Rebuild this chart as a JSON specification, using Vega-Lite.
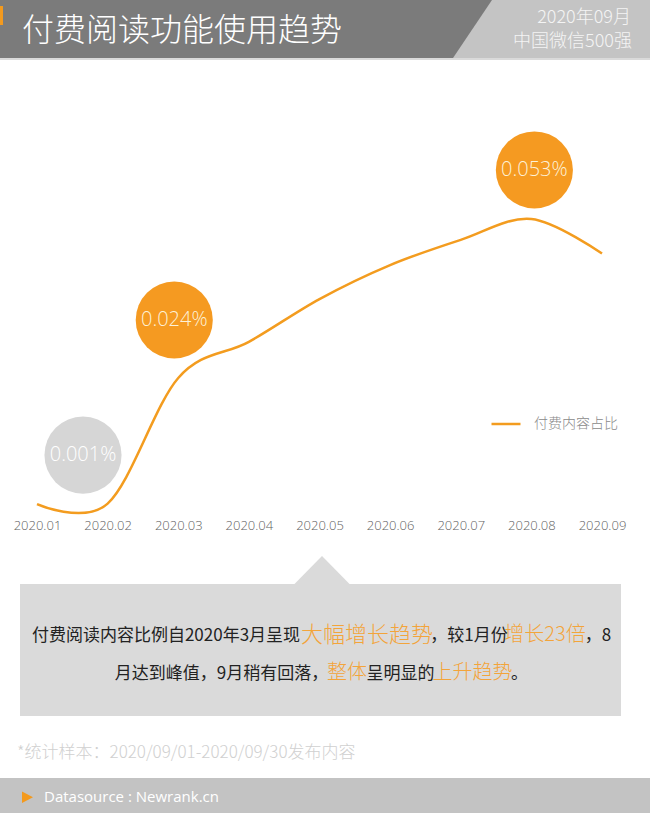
{
  "$schema": "https://vega.github.io/schema/vega-lite/v6.json",
  "width": 650,
  "height": 813,
  "autosize": {"type": "none"},
  "padding": 0,
  "background": "#ffffff",
  "config": {"view": {"stroke": null}, "font": "Noto Sans CJK SC"},
  "datasets": {
    "trend": [
      {"month": "2020.01", "share": 0.001, "series": "付费内容占比", "label": "0.001%"},
      {"month": "2020.02", "share": 0.0011, "series": "付费内容占比"},
      {"month": "2020.03", "share": 0.024, "series": "付费内容占比", "label": "0.024%"},
      {"month": "2020.04", "share": 0.0306, "series": "付费内容占比"},
      {"month": "2020.05", "share": 0.0384, "series": "付费内容占比"},
      {"month": "2020.06", "share": 0.0446, "series": "付费内容占比"},
      {"month": "2020.07", "share": 0.0492, "series": "付费内容占比"},
      {"month": "2020.08", "share": 0.053, "series": "付费内容占比", "label": "0.053%"},
      {"month": "2020.09", "share": 0.0467, "series": "付费内容占比"}
    ]
  },
  "layer": [
    {
      "data": {"values": [{}]},
      "mark": {"type": "rect", "color": "#c4c4c4"},
      "encoding": {"x": {"value": 0}, "x2": {"value": 650}, "y": {"value": 0}, "y2": {"value": 58}}
    },
    {
      "data": {"values": [{}]},
      "mark": {"type": "point", "shape": "M0,0L492,0L453,58L0,58Z", "size": 4, "filled": true, "opacity": 1, "color": "#7b7b7b", "strokeWidth": 0},
      "encoding": {"x": {"value": 0}, "y": {"value": 0}}
    },
    {
      "data": {"values": [{}]},
      "mark": {"type": "rect", "color": "#dadada"},
      "encoding": {"x": {"value": 0}, "x2": {"value": 650}, "y": {"value": 58}, "y2": {"value": 60}}
    },
    {
      "data": {"values": [{}]},
      "mark": {"type": "rect", "color": "#f39a1e"},
      "encoding": {"x": {"value": 0}, "x2": {"value": 3}, "y": {"value": 6}, "y2": {"value": 25}}
    },
    {
      "data": {"values": [{}]},
      "mark": {"type": "text", "align": "left", "baseline": "middle", "font": "'Noto Sans CJK SC Light', 'Noto Sans CJK SC'", "fontSize": 32, "fontWeight": 300, "color": "#ffffff"},
      "encoding": {"x": {"value": 22}, "y": {"value": 31}, "text": {"value": "付费阅读功能使用趋势"}}
    },
    {
      "data": {"values": [{}]},
      "mark": {"type": "text", "align": "right", "baseline": "middle", "font": "'Noto Sans CJK SC Light', 'Noto Sans CJK SC'", "fontSize": 18, "fontWeight": 300, "color": "#f4f4f4"},
      "encoding": {"x": {"value": 631}, "y": {"value": 18}, "text": {"value": "2020年09月"}}
    },
    {
      "data": {"values": [{}]},
      "mark": {"type": "text", "align": "right", "baseline": "middle", "font": "'Noto Sans CJK SC Light', 'Noto Sans CJK SC'", "fontSize": 18, "fontWeight": 300, "color": "#f4f4f4"},
      "encoding": {"x": {"value": 632}, "y": {"value": 42}, "text": {"value": "中国微信500强"}}
    },
    {
      "data": {"name": "trend"},
      "mark": {"type": "line", "interpolate": "cardinal", "strokeWidth": 2.5},
      "encoding": {
        "x": {
          "field": "month", "type": "ordinal",
          "scale": {"type": "point", "range": [37, 602], "padding": 0},
          "axis": {"orient": "bottom", "offset": -297, "domain": false, "ticks": false, "grid": false, "title": null, "labelAngle": 0, "labelPadding": 3, "labelFont": "Open Sans", "labelFontSize": 13, "labelFontWeight": 300, "labelColor": "#5f5f5f"}
        },
        "y": {
          "field": "share", "type": "quantitative",
          "scale": {"domain": [0, 0.06], "range": [509.6, 180.6], "nice": false, "zero": false},
          "axis": null
        },
        "color": {
          "field": "series", "type": "nominal",
          "scale": {"range": ["#f39c1f"]},
          "legend": {"orient": "none", "legendX": 490, "legendY": 408, "title": null, "symbolType": "stroke", "symbolSize": 841, "symbolStrokeWidth": 2.5, "labelFont": "'Noto Sans CJK SC Light', 'Noto Sans CJK SC'", "labelFontSize": 14, "labelColor": "#8a8a8a", "labelOffset": 12, "padding": 0}
        }
      }
    },
    {
      "data": {"name": "trend"},
      "transform": [{"filter": "datum.month === '2020.01'"}],
      "encoding": {
        "x": {"field": "month", "type": "ordinal"},
        "y": {"field": "share", "type": "quantitative"}
      },
      "layer": [
        {"mark": {"type": "circle", "size": 5945, "opacity": 1, "color": "#d6d6d6", "xOffset": 46, "yOffset": -49}},
        {"mark": {"type": "text", "font": "Open Sans", "fontSize": 20, "fontWeight": 300, "color": "#ffffff", "baseline": "middle", "xOffset": 46, "yOffset": -49}, "encoding": {"text": {"field": "label"}}}
      ]
    },
    {
      "data": {"name": "trend"},
      "transform": [{"filter": "datum.month === '2020.03'"}],
      "encoding": {
        "x": {"field": "month", "type": "ordinal"},
        "y": {"field": "share", "type": "quantitative"}
      },
      "layer": [
        {"mark": {"type": "circle", "size": 5945, "opacity": 1, "color": "#f59a21", "xOffset": -4, "yOffset": -58}},
        {"mark": {"type": "text", "font": "Open Sans", "fontSize": 20, "fontWeight": 300, "color": "#fdf1d8", "baseline": "middle", "xOffset": -4, "yOffset": -58}, "encoding": {"text": {"field": "label"}}}
      ]
    },
    {
      "data": {"name": "trend"},
      "transform": [{"filter": "datum.month === '2020.08'"}],
      "encoding": {
        "x": {"field": "month", "type": "ordinal"},
        "y": {"field": "share", "type": "quantitative"}
      },
      "layer": [
        {"mark": {"type": "circle", "size": 5945, "opacity": 1, "color": "#f59a21", "xOffset": 3, "yOffset": -49}},
        {"mark": {"type": "text", "font": "Open Sans", "fontSize": 20, "fontWeight": 300, "color": "#fdf1d8", "baseline": "middle", "xOffset": 3, "yOffset": -49}, "encoding": {"text": {"field": "label"}}}
      ]
    },
    {
      "data": {"values": [{}]},
      "mark": {"type": "rect", "color": "#dadada"},
      "encoding": {"x": {"value": 20}, "x2": {"value": 621}, "y": {"value": 584}, "y2": {"value": 716}}
    },
    {
      "data": {"values": [{}]},
      "mark": {"type": "point", "shape": "M294,584.5L322,556L350,584.5Z", "size": 4, "filled": true, "opacity": 1, "color": "#dadada", "strokeWidth": 0},
      "encoding": {"x": {"value": 0}, "y": {"value": 0}}
    },
    {
      "data": {"values": [{}]},
      "mark": {"type": "text", "align": "center", "baseline": "middle", "fontSize": 17, "color": "#222222"},
      "encoding": {"x": {"value": 166}, "y": {"value": 636}, "text": {"value": "付费阅读内容比例自2020年3月呈现"}}
    },
    {
      "data": {"values": [{}]},
      "mark": {"type": "text", "align": "center", "baseline": "middle", "font": "'Noto Sans CJK SC Light', 'Noto Sans CJK SC'", "fontSize": 22, "fontWeight": 300, "color": "#f3a43a"},
      "encoding": {"x": {"value": 367}, "y": {"value": 635}, "text": {"value": "大幅增长趋势"}}
    },
    {
      "data": {"values": [{}]},
      "mark": {"type": "text", "align": "center", "baseline": "middle", "fontSize": 17, "color": "#222222"},
      "encoding": {"x": {"value": 469}, "y": {"value": 636}, "text": {"value": "，较1月份"}}
    },
    {
      "data": {"values": [{}]},
      "mark": {"type": "text", "align": "center", "baseline": "middle", "font": "'Noto Sans CJK SC Light', 'Noto Sans CJK SC'", "fontSize": 20, "fontWeight": 300, "color": "#f3a43a"},
      "encoding": {"x": {"value": 545}, "y": {"value": 635}, "text": {"value": "增长23倍"}}
    },
    {
      "data": {"values": [{}]},
      "mark": {"type": "text", "align": "center", "baseline": "middle", "fontSize": 17, "color": "#222222"},
      "encoding": {"x": {"value": 598}, "y": {"value": 636}, "text": {"value": "，8"}}
    },
    {
      "data": {"values": [{}]},
      "mark": {"type": "text", "align": "center", "baseline": "middle", "fontSize": 17, "color": "#222222"},
      "encoding": {"x": {"value": 221.5}, "y": {"value": 674}, "text": {"value": "月达到峰值，9月稍有回落，"}}
    },
    {
      "data": {"values": [{}]},
      "mark": {"type": "text", "align": "center", "baseline": "middle", "font": "'Noto Sans CJK SC Light', 'Noto Sans CJK SC'", "fontSize": 20, "fontWeight": 300, "color": "#f3a43a"},
      "encoding": {"x": {"value": 347}, "y": {"value": 673}, "text": {"value": "整体"}}
    },
    {
      "data": {"values": [{}]},
      "mark": {"type": "text", "align": "center", "baseline": "middle", "fontSize": 17, "color": "#222222"},
      "encoding": {"x": {"value": 400.5}, "y": {"value": 674}, "text": {"value": "呈明显的"}}
    },
    {
      "data": {"values": [{}]},
      "mark": {"type": "text", "align": "center", "baseline": "middle", "font": "'Noto Sans CJK SC Light', 'Noto Sans CJK SC'", "fontSize": 20, "fontWeight": 300, "color": "#f3a43a"},
      "encoding": {"x": {"value": 472.5}, "y": {"value": 673}, "text": {"value": "上升趋势"}}
    },
    {
      "data": {"values": [{}]},
      "mark": {"type": "text", "align": "center", "baseline": "middle", "fontSize": 17, "color": "#222222"},
      "encoding": {"x": {"value": 519.5}, "y": {"value": 674}, "text": {"value": "。"}}
    },
    {
      "data": {"values": [{}]},
      "mark": {"type": "text", "align": "left", "baseline": "middle", "font": "'Noto Sans CJK SC Light', 'Noto Sans CJK SC'", "fontSize": 17, "fontWeight": 300, "color": "#d0d0d0"},
      "encoding": {"x": {"value": 17}, "y": {"value": 753}, "text": {"value": "*统计样本：2020/09/01-2020/09/30发布内容"}}
    },
    {
      "data": {"values": [{}]},
      "mark": {"type": "rect", "color": "#c3c3c3"},
      "encoding": {"x": {"value": 0}, "x2": {"value": 650}, "y": {"value": 778}, "y2": {"value": 813}}
    },
    {
      "data": {"values": [{}]},
      "mark": {"type": "point", "shape": "M22,791.5L33,797.3L22,803Z", "size": 4, "filled": true, "opacity": 1, "color": "#f39a1e", "strokeWidth": 0},
      "encoding": {"x": {"value": 0}, "y": {"value": 0}}
    },
    {
      "data": {"values": [{}]},
      "mark": {"type": "text", "align": "left", "baseline": "middle", "font": "Open Sans", "fontSize": 15, "color": "#ffffff"},
      "encoding": {"x": {"value": 44}, "y": {"value": 797}, "text": {"value": "Datasource : Newrank.cn"}}
    }
  ]
}
